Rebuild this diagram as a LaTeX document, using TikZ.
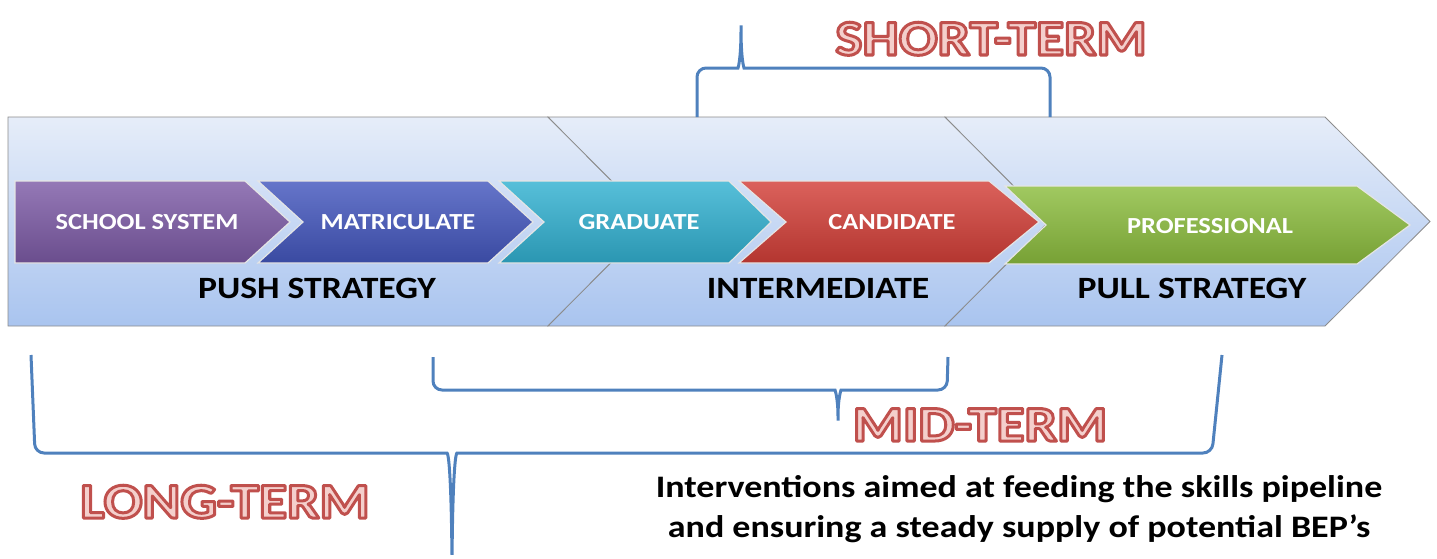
\documentclass[tikz,border=0pt]{standalone}
\usepackage{fontspec}
\setmainfont{Carlito}
\newfontfamily\widefont[FakeStretch=1.15]{Carlito}

\definecolor{bracecol}{HTML}{4F81BD}
\definecolor{termpink}{HTML}{F4CFCC}
\definecolor{bandtop}{HTML}{E6EDF9}
\definecolor{bandbot}{HTML}{A9C4EF}
\definecolor{schoolcol}{HTML}{7D5BA6}
\definecolor{matriccol}{HTML}{4457BE}
\definecolor{gradcol}{HTML}{32B1D1}
\definecolor{candcol}{HTML}{D33F38}
\definecolor{profcol}{HTML}{8CBD3E}

% #1 style, #2 left x, #3 body end x, #4 top y, #5 bottom y, #6 notch, #7 tip
\newcommand{\chevron}[7]{%
  \path[#1] (#2,#4) -- (#3,#4) -- ({#3+#7},{(#4+#5)/2}) -- (#3,#5) -- (#2,#5)
    -- ({#2+#6},{(#4+#5)/2}) -- cycle;}
% pink letters stroked in red
\newcommand{\outlined}[1]{\textcolor{termpink}{%
  \special{pdf:literal direct 0.753 0.314 0.302 RG 3 w 1 j 2 Tr}#1%
  \special{pdf:literal direct 0 Tr}}}

\begin{document}
\begin{tikzpicture}[x=1pt,y=-1pt,
    band/.style={top color=bandtop,bottom color=bandbot,draw=black!45,line width=0.8},
    stage/.style={draw=white!80!gray,line width=1.2,top color=#1!82!white,bottom color=#1!85!black},
    stagetext/.style={anchor=base,text=white,font=\widefont\fontsize{23}{27}\selectfont\bfseries},
    strategy/.style={anchor=base,font=\widefont\fontsize{31}{37}\selectfont\bfseries},
    term/.style={anchor=base,font=\widefont\fontsize{50}{58}\selectfont\bfseries},
    brace/.style={draw=bracecol,line width=3,rounded corners=9}]
  \useasboundingbox (0,0) rectangle (1437,558);

  % strategy bands
  \chevron{band}{8}{548}{117}{326}{0}{104}
  \chevron{band}{548}{945}{117}{326}{104}{104}
  \chevron{band}{945}{1325}{117}{326}{104}{105}

  % career stages
  \chevron{stage=schoolcol}{15}{245}{181}{263}{0}{45}
  \chevron{stage=matriccol}{258}{488}{181}{263}{45}{45}
  \chevron{stage=gradcol}{499}{729}{181}{263}{45}{42}
  \chevron{stage=candcol}{739}{989}{181}{263}{47}{50}
  \chevron{stage=profcol}{1005}{1357}{186}{264}{41}{53}

  \node[stagetext] (school) at (147,229) {SCHOOL SYSTEM};
  \node[stagetext] (matric) at (398,229) {MATRICULATE};
  \node[stagetext] (grad) at (639,229) {GRADUATE};
  \node[stagetext] (cand) at (892,229) {CANDIDATE};
  \node[stagetext] (prof) at (1210,233) {PROFESSIONAL};

  \node[strategy] (push) at (317,298) {PUSH STRATEGY};
  \node[strategy] (inter) at (818,298) {INTERMEDIATE};
  \node[strategy] (pull) at (1192,298) {PULL STRATEGY};

  % braces
  \draw[brace] (697,117) -- (697,68) -- (729,68)
    .. controls (738,68) and (741,60) .. (741,20)
    .. controls (741,60) and (744,68) .. (753,68) -- (1050,68) -- (1050,117);
  \draw[brace] (433,357) -- (433,390) -- (826,390)
    .. controls (835,390) and (838,398) .. (838,426)
    .. controls (838,398) and (841,390) .. (850,390) -- (947,390) -- (948,357);
  \draw[brace] (31,355) -- (35,453) -- (438,453)
    .. controls (448,453) and (451,465) .. (452,560)
    .. controls (453,465) and (456,453) .. (466,453) -- (1212,453) -- (1222,355);

  \node[term] (short) at (991,55) {\outlined{SHORT-TERM}};
  \node[term] (mid) at (980,441) {\outlined{MID-TERM}};
  \node[term] (long) at (225,518) {\outlined{LONG-TERM}};

  \node[strategy,align=center,font=\widefont\fontsize{31.3}{40}\selectfont\bfseries] (note) at (1019,537)
    {Interventions aimed at feeding the skills pipeline\\and ensuring a steady supply of potential BEP’s};
\end{tikzpicture}
\end{document}
